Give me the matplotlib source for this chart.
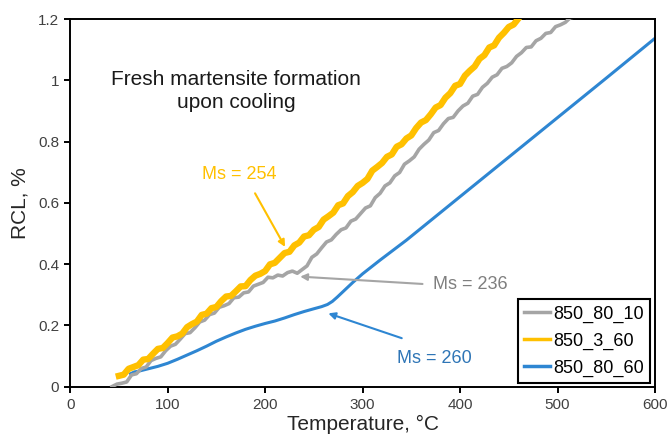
import matplotlib.pyplot as plt
from matplotlib.ticker import FuncFormatter

plt.rcParams['font.family'] = ['Liberation Sans', 'DejaVu Sans']

# --- data (temperature in C, RCL in %) ---
t_850_3_60 = [50, 55, 60, 65, 70, 75, 80, 85, 90, 95,
              100, 105, 110, 115, 120, 125, 130, 135, 140, 145,
              150, 155, 160, 165, 170, 175, 180, 185, 190, 195,
              200, 205, 210, 215, 220, 225, 230, 235, 240, 245,
              250, 255, 260, 265, 270, 275, 280, 285, 290, 295,
              300, 305, 310, 315, 320, 325, 330, 335, 340, 345,
              350, 355, 360, 365, 370, 375, 380, 385, 390, 395,
              400, 405, 410, 415, 420, 425, 430, 435, 440, 445,
              450, 455, 460]
rcl_850_3_60 = [0.035, 0.039, 0.058, 0.064, 0.070, 0.088, 0.090, 0.107, 0.123, 0.126,
                0.142, 0.160, 0.164, 0.173, 0.194, 0.204, 0.212, 0.234, 0.238, 0.256,
                0.260, 0.279, 0.294, 0.296, 0.311, 0.327, 0.328, 0.348, 0.362, 0.368,
                0.377, 0.399, 0.404, 0.420, 0.436, 0.440, 0.461, 0.470, 0.490, 0.494,
                0.512, 0.521, 0.545, 0.556, 0.568, 0.592, 0.598, 0.622, 0.635, 0.655,
                0.665, 0.678, 0.705, 0.717, 0.730, 0.750, 0.758, 0.783, 0.791, 0.810,
                0.820, 0.844, 0.862, 0.870, 0.889, 0.911, 0.919, 0.943, 0.958, 0.982,
                0.988, 1.015, 1.031, 1.045, 1.070, 1.082, 1.107, 1.114, 1.139, 1.155,
                1.174, 1.182, 1.202]

t_850_80_10 = [43, 48, 53, 58, 63, 68, 73, 78, 83, 88,
               93, 98, 103, 108, 113, 118, 123, 128, 133, 138,
               143, 148, 153, 158, 163, 168, 173, 178, 183, 188,
               193, 198, 203, 208, 213, 218, 223, 228, 233, 238,
               243, 248, 253, 258, 263, 268, 273, 278, 283, 288,
               293, 298, 303, 308, 313, 318, 323, 328, 333, 338,
               343, 348, 353, 358, 363, 368, 373, 378, 383, 388,
               393, 398, 403, 408, 413, 418, 423, 428, 433, 438,
               443, 448, 453, 458, 463, 468, 473, 478, 483, 488,
               493, 498, 503, 508, 513, 518]
rcl_850_80_10 = [0.000, 0.008, 0.011, 0.015, 0.038, 0.042, 0.059, 0.064, 0.085, 0.092,
                 0.097, 0.117, 0.132, 0.138, 0.155, 0.173, 0.176, 0.192, 0.211, 0.217,
                 0.235, 0.240, 0.259, 0.264, 0.271, 0.290, 0.292, 0.306, 0.309, 0.328,
                 0.334, 0.340, 0.357, 0.355, 0.364, 0.361, 0.372, 0.377, 0.370, 0.382,
                 0.394, 0.422, 0.433, 0.453, 0.472, 0.479, 0.497, 0.512, 0.518, 0.540,
                 0.547, 0.565, 0.583, 0.590, 0.617, 0.631, 0.655, 0.665, 0.688, 0.699,
                 0.726, 0.737, 0.750, 0.775, 0.791, 0.805, 0.829, 0.836, 0.858, 0.875,
                 0.879, 0.900, 0.916, 0.925, 0.948, 0.954, 0.977, 0.990, 1.010, 1.018,
                 1.039, 1.045, 1.057, 1.078, 1.090, 1.107, 1.109, 1.129, 1.137, 1.153,
                 1.156, 1.175, 1.181, 1.189, 1.204, 1.207]

t_850_80_60 = [62, 66, 70, 80, 90, 100, 110, 120, 130, 140, 150, 160, 170, 180, 190, 200, 210,
               220, 230, 240, 250, 258, 264, 269, 274, 280, 290, 300, 318, 345, 400, 450,
               500, 550, 600]
rcl_850_80_60 = [0.042, 0.048, 0.050, 0.058, 0.066, 0.076, 0.089, 0.103, 0.117, 0.132, 0.148,
                 0.162, 0.175, 0.187, 0.197, 0.206, 0.214, 0.224, 0.235, 0.245, 0.254, 0.261,
                 0.268, 0.278, 0.292, 0.310, 0.340, 0.368, 0.413, 0.478, 0.620, 0.749, 0.878,
                 1.007, 1.137]

c_grey = '#A5A5A5'
c_gold = '#FFC000'
c_blue = '#2E86D2'

fig, ax = plt.subplots(figsize=(6.68, 4.38), dpi=100)
fig.subplots_adjust(left=0.105, right=0.9805, top=0.9566, bottom=0.1174)

l_blue, = ax.plot(t_850_80_60, rcl_850_80_60, color=c_blue, lw=2.2, label='850_80_60', zorder=2)
l_grey, = ax.plot(t_850_80_10, rcl_850_80_10, color=c_grey, lw=2.6, label='850_80_10', zorder=3)
l_gold, = ax.plot(t_850_3_60, rcl_850_3_60, color=c_gold, lw=4.6, label='850_3_60', zorder=4)

ax.set_xlim(0, 600)
ax.set_ylim(0, 1.2)
ax.set_xticks(range(0, 601, 100))
ax.set_yticks([0, 0.2, 0.4, 0.6, 0.8, 1.0, 1.2])
ax.yaxis.set_major_formatter(FuncFormatter(lambda v, p: '{:g}'.format(round(v, 1))))
ax.tick_params(direction='out', length=4, width=1.4, labelsize=11, color='black',
               labelcolor='#404040', pad=4)
for s in ax.spines.values():
    s.set_linewidth(1.4)

ax.set_xlabel('Temperature, °C', fontsize=15, labelpad=2, color='#262626')
ax.set_ylabel('RCL, %', fontsize=15, labelpad=6, color='#262626')

ax.text(170, 0.965, 'Fresh martensite formation\nupon cooling', fontsize=15,
        ha='center', va='center', linespacing=1.25, color='#1a1a1a')

# Ms annotations
ax.text(174, 0.694, 'Ms = 254', color=c_gold, fontsize=13, ha='center', va='center')
ax.annotate('', xy=(220.5, 0.456), xytext=(189.7, 0.631),
            arrowprops=dict(arrowstyle='-|>', color=c_gold, lw=1.5, mutation_scale=10,
                            shrinkA=0, shrinkB=0), zorder=5)
ax.text(411, 0.332, 'Ms = 236', color='#7F7F7F', fontsize=13, ha='center', va='center')
ax.annotate('', xy=(236, 0.359), xytext=(361.5, 0.335),
            arrowprops=dict(arrowstyle='-|>', color=c_grey, lw=1.5, mutation_scale=10,
                            shrinkA=0, shrinkB=0), zorder=5)
ax.text(374, 0.093, 'Ms = 260', color='#2E75B6', fontsize=13, ha='center', va='center')
ax.annotate('', xy=(264.9, 0.239), xytext=(340.2, 0.158),
            arrowprops=dict(arrowstyle='-|>', color=c_blue, lw=1.5, mutation_scale=10,
                            shrinkA=0, shrinkB=0), zorder=5)

leg = ax.legend(handles=[l_grey, l_gold, l_blue], loc='lower right',
                bbox_to_anchor=(0.992, 0.009), borderaxespad=0, fontsize=13,
                fancybox=False, framealpha=1, edgecolor='black', handlelength=1.4,
                handletextpad=0.2, labelspacing=0.55, borderpad=0.35)
leg.get_frame().set_linewidth(1.5)
for h in leg.get_lines():
    h.set_linewidth(2.5)

fig.savefig('out.png', dpi=100)
